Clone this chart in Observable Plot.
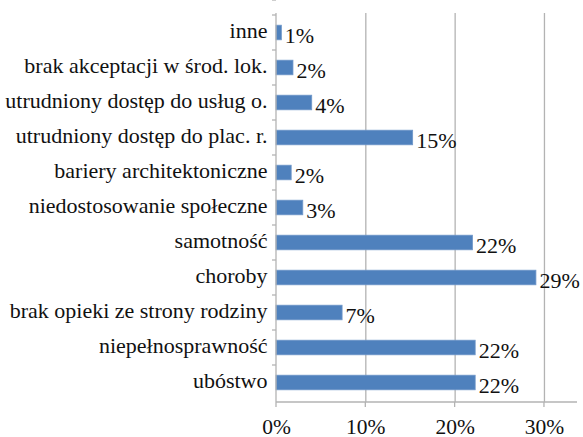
<!DOCTYPE html>
<html>
<head>
<meta charset="utf-8">
<script src="https://cdn.jsdelivr.net/npm/d3@7"></script>
<script src="https://cdn.jsdelivr.net/npm/@observablehq/plot@0.6"></script>
<style>
  html, body { margin: 0; padding: 0; background: #fff; }
  #chart svg { display: block; }
</style>
</head>
<body>
<div id="chart"></div>
<script>
const categories = [
  "inne",
  "brak akceptacji w środ. lok.",
  "utrudniony dostęp do usług o.",
  "utrudniony dostęp do plac. r.",
  "bariery architektoniczne",
  "niedostosowanie społeczne",
  "samotność",
  "choroby",
  "brak opieki ze strony rodziny",
  "niepełnosprawność",
  "ubóstwo"
];
const values = [0.006, 0.019, 0.040, 0.153, 0.017, 0.030, 0.220, 0.291, 0.074, 0.223, 0.223];
const valueLabels = ["1%", "2%", "4%", "15%", "2%", "3%", "22%", "29%", "7%", "22%", "22%"];
const xTicks = [0, 0.1, 0.2, 0.3];
const xTickLabels = ["0%", "10%", "20%", "30%"];

const data = categories.map((c, i) => ({cat: c, value: values[i], label: valueLabels[i]}));
const ticks = xTicks.map((t, i) => ({t, label: xTickLabels[i]}));

const gridColor = "#b3b3b3";
const font = "Liberation Serif";

function frameMark(index, scales, values, dim) {
  const g = d3.create("svg:g");
  const y = scales.y, x = scales.x;
  const bw = y.bandwidth ?? 0;
  const x0 = x(0);
  const top = dim.marginTop, bottom = dim.height - dim.marginBottom;
  const right = dim.width - dim.marginRight;
  g.append("line").attr("x1", x0).attr("x2", x0).attr("y1", top).attr("y2", bottom)
    .attr("stroke", gridColor).attr("stroke-width", 1.3);
  g.append("line").attr("x1", x0).attr("x2", right).attr("y1", bottom).attr("y2", bottom)
    .attr("stroke", gridColor).attr("stroke-width", 1.3);
  const bounds = categories.map(c => y(c)).concat([y(categories[categories.length - 1]) + bw]);
  for (const b of bounds) {
    g.append("line").attr("x1", x0 - 4).attr("x2", x0).attr("y1", b).attr("y2", b)
      .attr("stroke", gridColor).attr("stroke-width", 1.3);
  }
  for (const t of xTicks) {
    g.append("line").attr("x1", x(t)).attr("x2", x(t)).attr("y1", bottom).attr("y2", bottom + 5)
      .attr("stroke", gridColor).attr("stroke-width", 1.3);
  }
  return g.node();
}

const chart = Plot.plot({
  width: 583,
  height: 437,
  marginLeft: 276,
  marginRight: 6,
  marginTop: 13,
  marginBottom: 35,
  style: {fontFamily: font, background: "#fff", color: "#111"},
  x: {domain: [0, 0.337], axis: null},
  y: {domain: categories, padding: 0, axis: null},
  marks: [
    Plot.ruleX(xTicks.slice(1), {stroke: gridColor, strokeWidth: 1.3, strokeOpacity: 1}),
    Plot.barX(data, {
      x: "value", y: "cat", fill: "#4f81bd",
      stroke: "#6f97c9", strokeWidth: 0.8,
      insetTop: 10.2, insetBottom: 10.2
    }),
    frameMark,
    Plot.text(data, {
      x: "value", y: "cat", text: "label",
      textAnchor: "start", dx: 3, dy: 3,
      fontSize: 22, fill: "#111", fontFamily: font
    }),
    Plot.text(categories, {
      x: 0, y: d => d, text: d => d,
      textAnchor: "end", dx: -9, dy: -2,
      fontSize: 22, fill: "#111", fontFamily: font
    }),
    Plot.text(ticks, {
      x: "t", text: "label", frameAnchor: "bottom", lineAnchor: "bottom",
      dy: 31, fontSize: 21.5, fill: "#111", fontFamily: font
    })
  ]
});

document.getElementById("chart").appendChild(chart);
</script>
</body>
</html>
